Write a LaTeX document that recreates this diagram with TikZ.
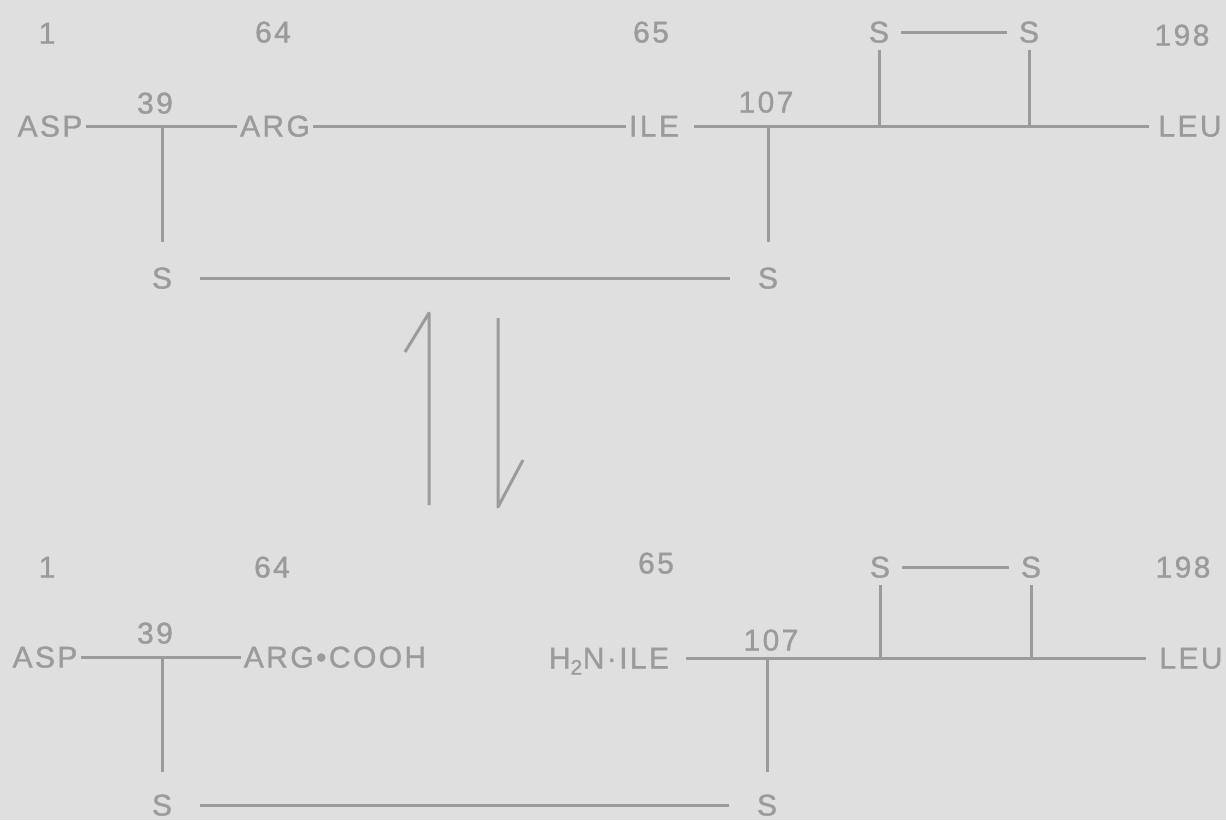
\documentclass[tikz,border=0pt]{standalone}
\usepackage{fontspec}
\setmainfont{Liberation Sans}[LetterSpace=8, FakeBold=1.2]
\definecolor{bg}{RGB}{223,223,223}
\definecolor{ink}{RGB}{155,155,155}
\begin{document}
\begin{tikzpicture}[x=1pt,y=-1pt,
  lab/.style={font=\fontsize{30}{36}\selectfont, text=ink, inner xsep=3pt, inner ysep=0pt, text height=21pt, text depth=0pt},
  sbot/.style={lab, inner xsep=28pt, inner ysep=25pt},
  stop/.style={lab, inner xsep=12pt, inner ysep=7pt},
  bond/.style={draw=ink, line width=3pt},
]
\fill[bg] (0,0) rectangle (1226,820);
\useasboundingbox (0,0) rectangle (1226,820);

% ---------- top structure ----------
\node[lab] (num1t)   at (47,33)   {1};
\node[lab] (num64t)  at (273,32)  {64};
\node[lab] (num65t)  at (651,32)  {65};
\node[lab] (num198t) at (1182,35) {198};
\node[stop] (ssLt) at (879,32)  {S};
\node[stop] (ssRt) at (1029,32) {S};
\node[lab] (aspt) at (50,126)   {ASP};
\node[lab] (n39t) at (155,103)  {39};
\node[lab] (argt) at (275,126)  {ARG};
\node[lab] (ilet) at (654,126)  {ILE};
\node[lab] (n107t) at (766,102) {107};
\node[lab] (leut) at (1190,126) {LEU};
\node[sbot] (sbLt) at (162,278) {S};
\node[sbot] (sbRt) at (768,278) {S};
\coordinate (j39t)  at (162,126);
\coordinate (j107t) at (768,126);
\coordinate (jSLt)  at (879,126);
\coordinate (jSRt)  at (1029,126);

\draw[bond] (aspt) -- (argt);
\draw[bond] (argt) -- (ilet);
\draw[bond, shorten <=12pt, shorten >=6pt] (ilet) -- (leut);
\draw[bond] (j39t) -- (sbLt);
\draw[bond] (j107t) -- (sbRt);
\draw[bond] (sbLt) -- (sbRt);
\draw[bond] (jSLt) -- (ssLt);
\draw[bond] (jSRt) -- (ssRt);
\draw[bond] (ssLt) -- (ssRt);

% ---------- equilibrium arrows ----------
\coordinate (upS) at (429,505);
\coordinate (upT) at (429,313);
\coordinate (upB) at (405,352);
\coordinate (dnS) at (498,318);
\coordinate (dnT) at (498,507);
\coordinate (dnB) at (523,460);
\draw[bond, line join=round] (upS) -- (upT) -- (upB);
\draw[bond, line join=round] (dnS) -- (dnT) -- (dnB);

% ---------- bottom structure ----------
\node[lab] (num1b)   at (47,567)   {1};
\node[lab] (num64b)  at (272,567)  {64};
\node[lab] (num65b)  at (656,563)  {65};
\node[lab] (num198b) at (1183,567) {198};
\node[stop] (ssLb) at (880,567)  {S};
\node[stop] (ssRb) at (1031,567) {S};
\node[lab] (aspb) at (45,657)    {ASP};
\node[lab] (n39b) at (155,633)   {39};
\node[lab] (argb) at (335,657)   {ARG•COOH};
\node[lab] (h2nb) at (609,658)   {H\textsubscript{2}N·ILE};
\node[lab] (n107b) at (771,640)  {107};
\node[lab] (leub) at (1191,658)  {LEU};
\node[sbot, inner ysep=22pt] (sbLb) at (162,805) {S};
\node[sbot, inner ysep=22pt] (sbRb) at (767,805) {S};
\coordinate (j39b)  at (162,657);
\coordinate (j107b) at (767,658);
\coordinate (jSLb)  at (880,658);
\coordinate (jSRb)  at (1031,658);

\draw[bond] (aspb) -- (argb.west |- aspb);
\draw[bond, shorten <=14pt, shorten >=10pt] (h2nb) -- (leub);
\draw[bond] (j39b) -- (sbLb);
\draw[bond] (j107b) -- (sbRb);
\draw[bond] (sbLb) -- (sbRb);
\draw[bond] (jSLb) -- (ssLb);
\draw[bond] (jSRb) -- (ssRb);
\draw[bond] (ssLb) -- (ssRb);
\end{tikzpicture}
\end{document}
